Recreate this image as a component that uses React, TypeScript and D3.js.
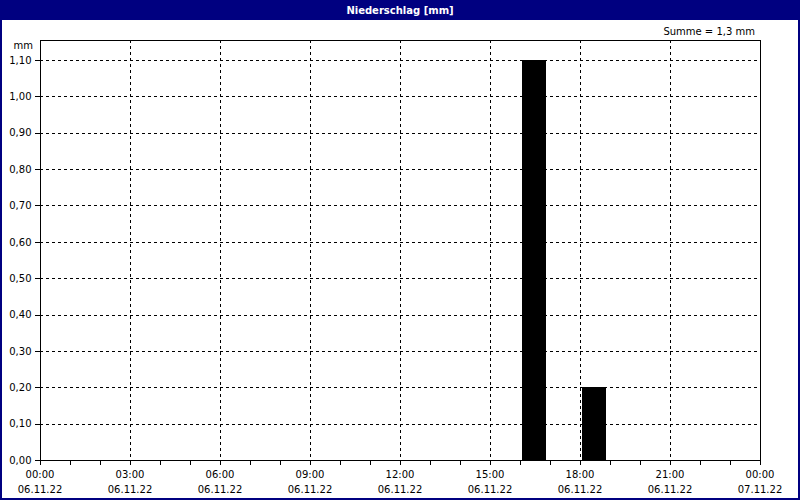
import { useEffect, useRef } from 'react'
import * as d3 from 'd3'

const TITLE = 'Niederschlag [mm]'
const SUM_LABEL = 'Summe = 1,3 mm'
const UNIT = 'mm'

// hourly precipitation, start hour of each interval on 06.11.22
const barHours = [16, 18]
const barValues = [1.1, 0.2]

const yTicks = [0, 0.1, 0.2, 0.3, 0.4, 0.5, 0.6, 0.7, 0.8, 0.9, 1.0, 1.1]
const xMajorHours = [0, 3, 6, 9, 12, 15, 18, 21, 24]

const W = 800
const H = 500
const MARGIN = { top: 40, right: 40, bottom: 40, left: 40 }
const NAVY = '#000080'
const FONT = '"DejaVu Sans", sans-serif'

const day0 = new Date(2022, 10, 6, 0, 0)
const atHour = (h: number) => d3.timeMinute.offset(day0, Math.round(h * 60))

export default function App() {
  const svgRef = useRef<SVGSVGElement | null>(null)

  useEffect(() => {
    document.body.style.margin = '0'
    const el = svgRef.current
    if (!el) return
    const svg = d3.select(el)
    svg.selectAll('*').remove()

    const iW = W - MARGIN.left - MARGIN.right
    const iH = H - MARGIN.top - MARGIN.bottom

    const x = d3.scaleTime().domain([atHour(0), atHour(24)]).range([MARGIN.left, MARGIN.left + iW])
    const y = d3.scaleLinear().domain([0, 1.155]).range([MARGIN.top + iH, MARGIN.top])

    // frame + title bar
    svg.append('rect').attr('width', W).attr('height', H).attr('fill', '#fff')
    svg.append('rect')
      .attr('x', 1).attr('y', 1).attr('width', W - 2).attr('height', H - 2)
      .attr('fill', 'none').attr('stroke', NAVY).attr('stroke-width', 2)
    svg.append('rect').attr('width', W).attr('height', 20).attr('fill', NAVY)
    svg.append('text')
      .attr('x', W / 2).attr('y', 14)
      .attr('text-anchor', 'middle')
      .attr('font-family', FONT).attr('font-size', '10px').attr('font-weight', 'bold')
      .attr('fill', '#fff')
      .text(TITLE)

    svg.append('text')
      .attr('x', 755).attr('y', 35)
      .attr('text-anchor', 'end')
      .attr('font-family', FONT).attr('font-size', '10px')
      .attr('fill', '#000')
      .text(SUM_LABEL)

    svg.append('text')
      .attr('x', 33).attr('y', 49)
      .attr('text-anchor', 'end')
      .attr('font-family', FONT).attr('font-size', '10px')
      .text(UNIT)

    // grid
    const grid = svg.append('g').attr('stroke', '#000').attr('stroke-dasharray', '3,3').attr('shape-rendering', 'crispEdges')
    grid.selectAll('line.h')
      .data(yTicks.slice(1))
      .join('line')
      .attr('class', 'h')
      .attr('x1', MARGIN.left).attr('x2', MARGIN.left + iW)
      .attr('y1', (d) => Math.round(y(d)) + 0.5).attr('y2', (d) => Math.round(y(d)) + 0.5)
    grid.selectAll('line.v')
      .data(xMajorHours.slice(1, -1))
      .join('line')
      .attr('class', 'v')
      .attr('x1', (h) => Math.round(x(atHour(h))) + 0.5).attr('x2', (h) => Math.round(x(atHour(h))) + 0.5)
      .attr('y1', MARGIN.top).attr('y2', MARGIN.top + iH)

    // bars, 80% of the hour
    const barW = (x(atHour(1)) - x(atHour(0))) * 0.8
    svg.append('g').selectAll('rect')
      .data(barHours.map((h, i) => ({ h, v: barValues[i] })))
      .join('rect')
      .attr('x', (d) => x(atHour(d.h + 0.5)) - barW / 2 - 1)
      .attr('width', barW)
      .attr('y', (d) => y(d.v))
      .attr('height', (d) => y(0) - y(d.v))
      .attr('fill', '#000')
      .attr('shape-rendering', 'crispEdges')

    // plot frame
    svg.append('rect')
      .attr('x', MARGIN.left + 0.5).attr('y', MARGIN.top + 0.5)
      .attr('width', iW).attr('height', iH)
      .attr('fill', 'none').attr('stroke', '#000')
      .attr('shape-rendering', 'crispEdges')

    // y axis
    const yAxis = svg.append('g')
      .attr('transform', `translate(${MARGIN.left + 0.5},0)`)
      .call(
        d3.axisLeft(y)
          .tickValues(yTicks)
          .tickSize(6)
          .tickPadding(3)
          .tickFormat((d) => d3.format('.2f')(d as number).replace('.', ','))
      )
    yAxis.select('.domain').remove()
    yAxis.selectAll('text').attr('font-family', FONT).attr('font-size', '10px').attr('fill', '#000')
    yAxis.selectAll('line').attr('shape-rendering', 'crispEdges')

    // x axis: hourly minor ticks, 3-hourly labels
    const xMinor = svg.append('g')
      .attr('transform', `translate(0,${MARGIN.top + iH + 0.5})`)
      .call(d3.axisBottom(x).ticks(d3.timeHour.every(1)).tickSize(4).tickFormat(() => ''))
    xMinor.select('.domain').remove()
    xMinor.selectAll('line').attr('shape-rendering', 'crispEdges')

    const labels = svg.append('g').attr('font-family', FONT).attr('font-size', '10px').attr('text-anchor', 'middle')
    labels.selectAll('text.t')
      .data(xMajorHours)
      .join('text')
      .attr('class', 't')
      .attr('x', (h) => x(atHour(h)))
      .attr('y', 478)
      .text((h) => d3.timeFormat('%H:%M')(atHour(h)))
    labels.selectAll('text.d')
      .data(xMajorHours)
      .join('text')
      .attr('class', 'd')
      .attr('x', (h) => x(atHour(h)))
      .attr('y', 493)
      .text((h) => d3.timeFormat('%d.%m.%y')(atHour(h)))
  }, [])

  return <svg ref={svgRef} width={W} height={H} style={{ display: 'block' }} />
}
